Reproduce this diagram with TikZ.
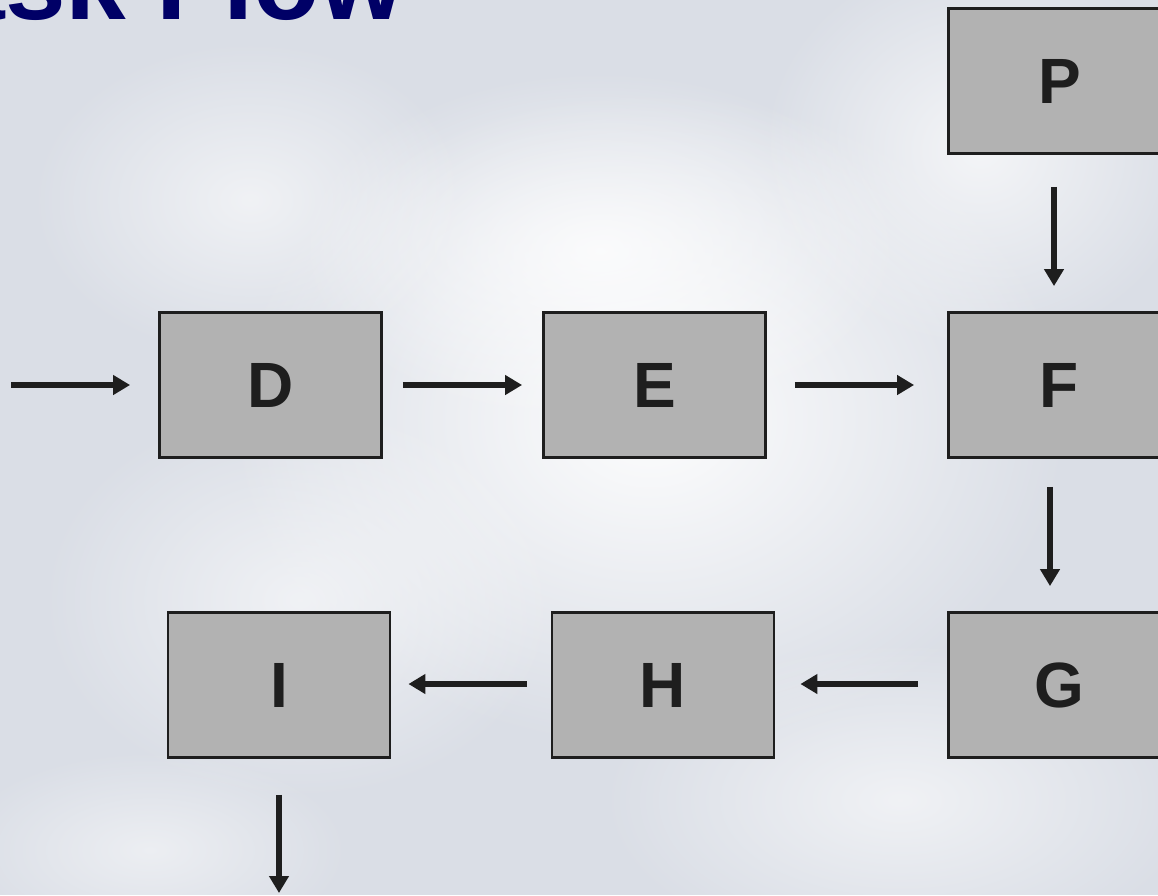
\documentclass[tikz,border=0pt]{standalone}
\usepackage{fontspec}
\setmainfont{Liberation Sans}
\usetikzlibrary{arrows.meta,fadings}
\definecolor{navy}{HTML}{000066}
\definecolor{boxfill}{HTML}{B2B2B2}
\definecolor{boxline}{HTML}{1E1E1E}
\definecolor{sky}{HTML}{DADEE6}
\tikzfading[name=softblob, inner color=transparent!0, outer color=transparent!100]
\tikzset{
  stepbox/.style={draw=boxline, line width=2.8pt, fill=boxfill, minimum width=222pt, minimum height=145pt,
    inner sep=0pt, font=\fontsize{64}{64}\selectfont\bfseries, text=boxline},
  flow/.style={draw=boxline, line width=5.5pt, -{Triangle[length=17pt,width=19pt]}},
  blob/.style={fill=white, path fading=softblob}
}
\begin{document}
\begin{tikzpicture}[x=1pt,y=-1pt]
\useasboundingbox (0,0) rectangle (1158,895);
\clip (0,0) rectangle (1158,895);
% sky background
\fill[sky] (0,0) rectangle (1158,895);
\fill[blob, opacity=0.95] (650,420) ellipse (420 and 330);
\fill[blob, opacity=0.8] (600,250) ellipse (300 and 180);
\fill[blob, opacity=0.7] (980,150) ellipse (220 and 200);
\fill[blob, opacity=0.6] (250,200) ellipse (220 and 160);
\fill[blob, opacity=0.6] (300,600) ellipse (260 and 200);
\fill[blob, opacity=0.6] (900,800) ellipse (300 and 160);
\fill[blob, opacity=0.5] (150,850) ellipse (200 and 100);
% title (cut off at the top edge, as in the reference)
\node[anchor=base east, inner sep=0pt, text=navy, font=\fontsize{109}{109}\selectfont\bfseries] (title) at (405,19) {Task Flow};
% boxes
\node[stepbox] (P) at (1059.5,81) {P};
\node[stepbox] (D) at (270.5,385) {D};
\node[stepbox] (E) at (654.5,385) {E};
\node[stepbox] (F) at (1059.5,385) {F};
\node[stepbox] (G) at (1059.5,685) {G};
\node[stepbox] (H) at (663,685) {H};
\node[stepbox] (I) at (279,685) {I};
\coordinate (in) at (11,385);
\coordinate (out) at (279,893);
% connectors
\draw[flow, shorten >=28pt] (in) -- (D.west);
\draw[flow, shorten <=20pt, shorten >=20pt] (D.east) -- (E.west);
\draw[flow, shorten <=28pt, shorten >=33pt] (E.east) -- (F.west);
\draw[flow, shorten <=32pt, shorten >=25pt] ([xshift=-5.5pt]P.south) -- ([xshift=-5.5pt]F.north);
\draw[flow, shorten <=28pt, shorten >=25pt] ([xshift=-9.5pt]F.south) -- ([xshift=-9.5pt]G.north);
\draw[flow, shorten <=29pt, shorten >=25pt] ([yshift=1pt]G.west) -- ([yshift=1pt]H.east);
\draw[flow, shorten <=24pt, shorten >=17pt] ([yshift=1pt]H.west) -- ([yshift=1pt]I.east);
\draw[flow, shorten <=36pt] (I.south) -- (out);
\end{tikzpicture}
\end{document}
